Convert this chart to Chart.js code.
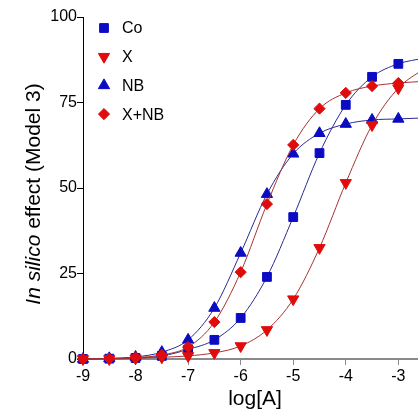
<!DOCTYPE html>
<html>
<head>
<meta charset="utf-8">
<script src="https://cdn.jsdelivr.net/npm/chart.js"></script>
<style>
  html, body { margin: 0; padding: 0; overflow: hidden; background: #fff; }
  #wrap { width: 440px; height: 412px; }
</style>
</head>
<body>
<div id="wrap"><canvas id="chart" width="440" height="412"></canvas></div>
<script>
// log[A] concentrations
const logA = [-9, -8.5, -8, -7.5, -7, -6.5, -6, -5.5, -5, -4.5, -4, -3.5, -3, -2.5];
// effect values
const co   = [0, 0.1, 0.3, 0.9, 2.8, 5.6, 12.0, 24.0, 41.5, 60.2, 74.3, 82.5, 86.3, 88.0];
const x    = [0, 0, 0.2, 0.5, 0.9, 1.8, 3.8, 8.5, 17.5, 32.5, 51.5, 68.4, 79.2, 85.0];
const nb   = [0, 0.2, 0.6, 2.0, 5.6, 14.9, 31.0, 48.2, 60.0, 66.0, 68.7, 69.9, 70.2, 70.5];
const xnb  = [0, 0.1, 0.4, 1.2, 3.5, 10.8, 25.4, 45.3, 62.6, 73.2, 77.8, 79.8, 80.7, 81.2];
const xTicks = [-9, -8, -7, -6, -5, -4, -3];
const yTicks = [0, 25, 50, 75, 100];

const BLUE = '#0b0bc4', RED = '#e00c0c';
const BLUE_LINE = '#2a2a94', RED_LINE = '#a63232';
const FONT = 'Liberation Sans, Arial, sans-serif';

function pts(vals) {
    return logA.map((v, i) => ({ x: v, y: vals[i] }));
}

function series(label, vals, color, lineColor, style, rot, radius, order) {
    return {
        label: label,
        data: pts(vals),
        borderColor: lineColor,
        borderWidth: 1,
        pointBackgroundColor: color,
        pointBorderColor: color,
        pointBorderWidth: 1,
        pointStyle: style,
        rotation: rot,
        pointRadius: radius,
        cubicInterpolationMode: 'monotone',
        fill: false,
        clip: false,
        order: order
    };
}

const sets = [
    series('Co', co, BLUE, BLUE_LINE, 'rect', 0, 6.2, 3),
    series('X', x, RED, RED_LINE, 'triangle', 180, 6.5, 1),
    series('NB', nb, BLUE, BLUE_LINE, 'triangle', 0, 6.5, 2),
    series('X+NB', xnb, RED, RED_LINE, 'rectRot', 0, 5.6, 0)
];

// legend inside the plot + axis titles (y title has italic part)
const extras = {
    id: 'extras',
    afterDraw(chart) {
        const ctx = chart.ctx;
        ctx.save();
        sets.forEach((s, i) => {
            const cy = 28 + i * 28.7;
            ctx.fillStyle = s.pointBackgroundColor;
            ctx.strokeStyle = s.pointBorderColor;
            ctx.lineWidth = 1;
            Chart.helpers.drawPoint(ctx, { pointStyle: s.pointStyle, rotation: s.rotation, radius: s.pointRadius, borderWidth: 1 }, 104, cy);
            ctx.fillStyle = '#000';
            ctx.font = '16px ' + FONT;
            ctx.textBaseline = 'middle';
            ctx.textAlign = 'left';
            ctx.fillText(s.label, 122, cy + 1);
        });

        // x title
        ctx.font = '21px ' + FONT;
        ctx.textAlign = 'center';
        ctx.textBaseline = 'alphabetic';
        ctx.fillStyle = '#000';
        ctx.fillText('log[A]', 255, 405);

        // y title
        ctx.translate(40, 194);
        ctx.rotate(-Math.PI / 2);
        const a = 'In silico', b = ' effect (Model 3)';
        ctx.font = 'italic 21px ' + FONT;
        const wa = ctx.measureText(a).width;
        ctx.font = '21px ' + FONT;
        const wb = ctx.measureText(b).width;
        const start = -(wa + wb) / 2;
        ctx.textAlign = 'left';
        ctx.font = 'italic 21px ' + FONT;
        ctx.fillText(a, start, 0);
        ctx.font = '21px ' + FONT;
        ctx.fillText(b, start + wa, 0);
        ctx.restore();
    }
};

new Chart(document.getElementById('chart'), {
    type: 'line',
    data: { datasets: sets },
    plugins: [extras],
    options: {
        responsive: false,
        animation: false,
        devicePixelRatio: 1,
        layout: { padding: { top: 17, left: 0, right: 0, bottom: 0 } },
        plugins: { legend: { display: false }, tooltip: { enabled: false } },
        scales: {
            x: {
                type: 'linear',
                min: -9,
                max: -2.35,
                afterBuildTicks: s => { s.ticks = xTicks.map(v => ({ value: v })); },
                afterFit: s => { s.height = 53; },
                grid: { drawOnChartArea: false, drawTicks: true, tickLength: 6, color: '#8a8a8a', lineWidth: 1 },
                border: { display: true, color: '#8a8a8a', width: 2 },
                ticks: { color: '#000', font: { family: FONT, size: 16 }, padding: 2, maxRotation: 0 }
            },
            y: {
                min: 0,
                max: 100,
                afterBuildTicks: s => { s.ticks = yTicks.map(v => ({ value: v })); },
                afterFit: s => { s.width = 83; },
                grid: { drawOnChartArea: false, drawTicks: true, tickLength: 6, color: '#000', lineWidth: 1 },
                border: { display: true, color: '#000', width: 1 },
                ticks: { color: '#000', font: { family: FONT, size: 16 }, padding: 0 }
            }
        }
    }
});
</script>
</body>
</html>
